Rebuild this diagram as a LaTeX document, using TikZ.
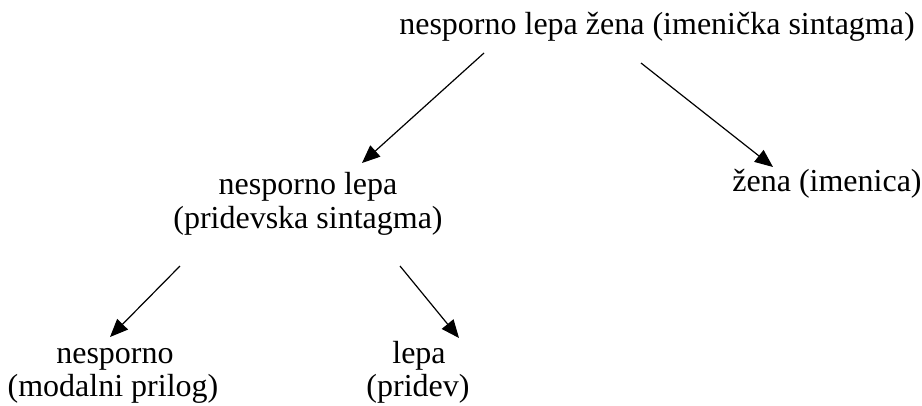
\documentclass[tikz,border=0pt]{standalone}
\usepackage{fontspec}
\setmainfont{Liberation Serif}
\usetikzlibrary{arrows.meta}
\begin{document}
\begin{tikzpicture}[x=1pt,y=-1pt,
  lbl/.style={anchor=base,inner sep=0pt,font=\fontsize{32}{34}\selectfont},
  branch/.style={line width=1.2pt,-{Triangle[length=18pt,width=15pt]}}]
\useasboundingbox (0,0) rectangle (922,405);
% phrase labels, one node per printed line
\node[lbl] (np)   at (657,34)  {nesporno lepa žena (imenička sintagma)};
\node[lbl] (ap1)  at (308,194) {nesporno lepa};
\node[lbl] (ap2)  at (308,228) {(pridevska sintagma)};
\node[lbl] (n)    at (827,191) {žena (imenica)};
\node[lbl] (adv1) at (115,363) {nesporno};
\node[lbl] (adv2) at (113,396) {(modalni prilog)};
\node[lbl] (adj1) at (419,363) {lepa};
\node[lbl] (adj2) at (418,396) {(pridev)};
% branch end points
\coordinate (s1) at (484,53);  \coordinate (e1) at (362,163);
\coordinate (s2) at (641,63);  \coordinate (e2) at (773,167);
\coordinate (s3) at (180,266); \coordinate (e3) at (110,337);
\coordinate (s4) at (400,266); \coordinate (e4) at (459,338);
\draw[branch] (s1) -- (e1);
\draw[branch] (s2) -- (e2);
\draw[branch] (s3) -- (e3);
\draw[branch] (s4) -- (e4);
\end{tikzpicture}
\end{document}
